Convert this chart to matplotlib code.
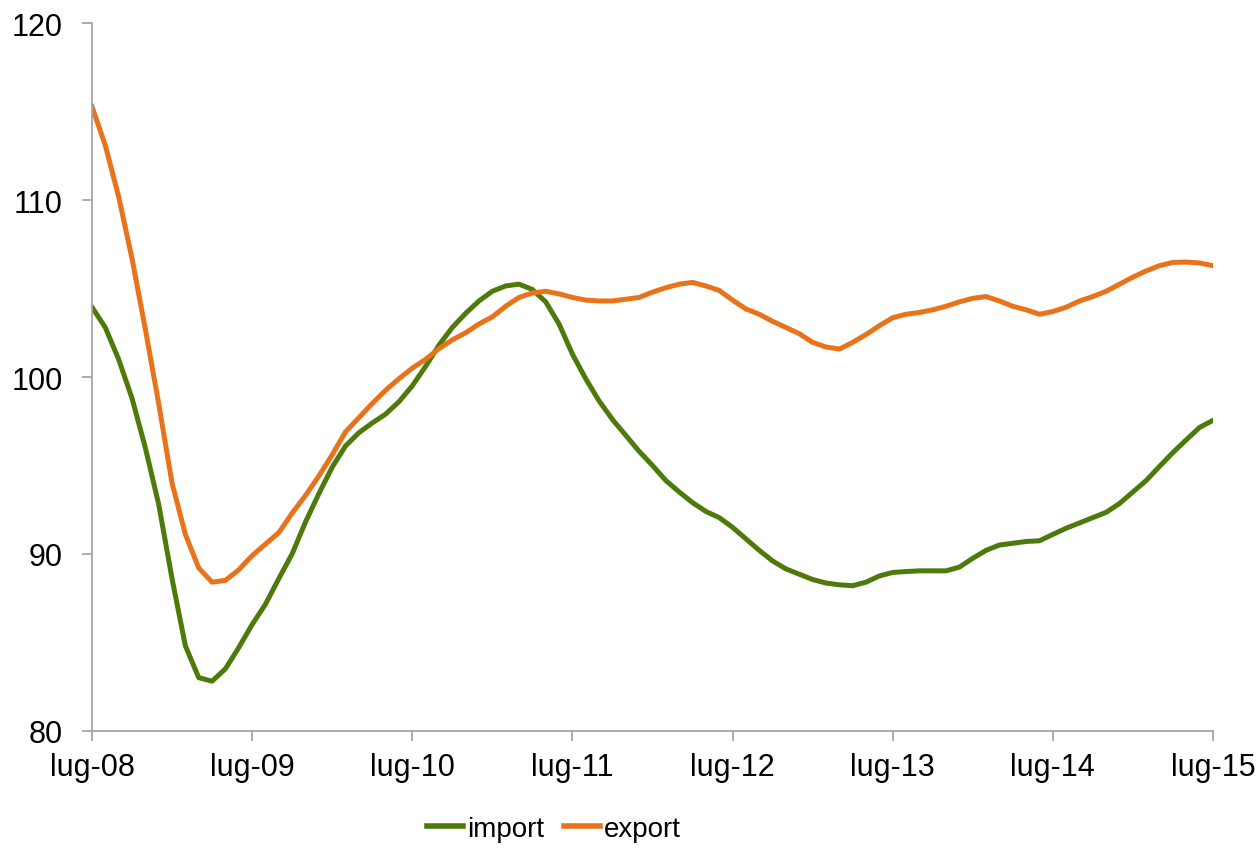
import matplotlib.pyplot as plt

plt.rcParams['font.family'] = ['Liberation Sans', 'DejaVu Sans']

# monthly values, lug-08 .. lug-15
import_vals = [103.95, 102.8, 101.0, 98.8, 96.0, 92.8, 88.6, 84.8, 83.0, 82.8,
               83.5, 84.7, 86.0, 87.15, 88.6, 90.0, 91.8, 93.4, 94.9, 96.1,
               96.85, 97.4, 97.9, 98.6, 99.5, 100.6, 101.8, 102.8, 103.6, 104.3,
               104.85, 105.15, 105.25, 104.95, 104.25, 103.0, 101.3, 99.9, 98.65, 97.6,
               96.7, 95.8, 95.0, 94.15, 93.5, 92.9, 92.4, 92.05, 91.5, 90.85,
               90.2, 89.6, 89.15, 88.85, 88.55, 88.35, 88.25, 88.2, 88.4, 88.75,
               88.95, 89.0, 89.04, 89.04, 89.04, 89.25, 89.75, 90.2, 90.5, 90.6,
               90.7, 90.74, 91.1, 91.45, 91.75, 92.05, 92.35, 92.85, 93.5, 94.15,
               94.95, 95.73, 96.45, 97.15, 97.55]
export_vals = [115.3, 113.1, 110.2, 106.7, 102.7, 98.5, 94.0, 91.1, 89.2, 88.4,
               88.5, 89.1, 89.9, 90.55, 91.2, 92.3, 93.3, 94.4, 95.6, 96.9,
               97.7, 98.5, 99.25, 99.9, 100.5, 101.0, 101.6, 102.1, 102.5, 103.0,
               103.4, 104.0, 104.5, 104.75, 104.85, 104.7, 104.5, 104.35, 104.3, 104.3,
               104.4, 104.5, 104.8, 105.05, 105.25, 105.35, 105.15, 104.9, 104.35, 103.85,
               103.55, 103.15, 102.8, 102.45, 101.96, 101.7, 101.58, 101.96, 102.4, 102.9,
               103.35, 103.55, 103.65, 103.8, 104.0, 104.25, 104.45, 104.55, 104.3, 104.0,
               103.8, 103.55, 103.7, 103.95, 104.3, 104.55, 104.85, 105.25, 105.65, 106.0,
               106.3, 106.48, 106.5, 106.45, 106.3]
tick_labels = ['lug-08', 'lug-09', 'lug-10', 'lug-11', 'lug-12', 'lug-13', 'lug-14', 'lug-15']
months = list(range(len(import_vals)))

fig = plt.figure(figsize=(12.58, 8.54), dpi=100)
ax = fig.add_axes([0.0731, 0.1432, 0.8911, 0.8283])

ax.plot(months, import_vals, color='#4E7A0C', lw=3.6, label='import')
ax.plot(months, export_vals, color='#E8731A', lw=3.6, label='export')

ax.set_xlim(0, 84)
ax.set_ylim(80, 120)
ax.set_xticks(range(0, 85, 12))
ax.set_xticklabels(tick_labels)
ax.set_yticks([80, 90, 100, 110, 120])

for s in ['top', 'right']:
    ax.spines[s].set_visible(False)
for s in ['left', 'bottom']:
    ax.spines[s].set_color('#A6A6A6')
    ax.spines[s].set_linewidth(1.3)
ax.tick_params(axis='both', direction='out', length=7, width=1.3, color='#A6A6A6',
               labelsize=22, labelcolor='black')
ax.tick_params(axis='y', pad=14)
ax.tick_params(axis='x', pad=8)

leg = fig.legend(loc='center', bbox_to_anchor=(554 / 1258, 1 - 830 / 854), ncol=2, frameon=False,
                 fontsize=20, handlelength=1.3, handletextpad=0.15, columnspacing=0.7)
for line in leg.get_lines():
    line.set_linewidth(4)

fig.savefig('out.png', dpi=100)
